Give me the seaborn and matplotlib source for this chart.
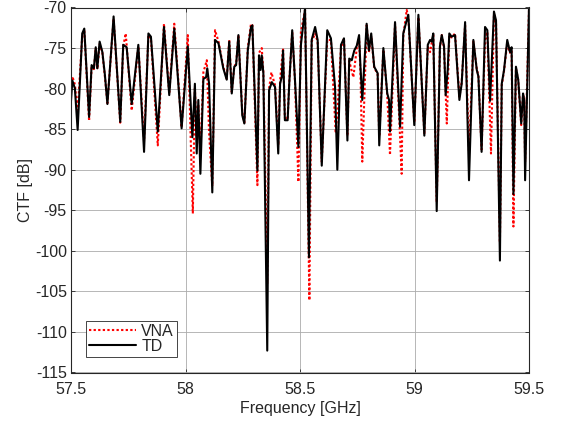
import numpy as np
import pandas as pd
import seaborn as sns
import matplotlib
matplotlib.use("Agg")
import matplotlib.pyplot as plt

# Channel transfer function, time-domain (TD) measurement
td_freq = [57.500, 57.506, 57.517, 57.529, 57.549, 57.558, 57.579, 57.590, 57.600, 57.608,
           57.615, 57.625, 57.637, 57.648, 57.659, 57.686, 57.715, 57.728, 57.743, 57.765,
           57.794, 57.819, 57.838, 57.849, 57.879, 57.906, 57.929, 57.951, 57.983, 58.010,
           58.030, 58.041, 58.049, 58.056, 58.065, 58.078, 58.090, 58.095, 58.103, 58.117,
           58.129, 58.144, 58.165, 58.180, 58.191, 58.202, 58.213, 58.221, 58.231, 58.248,
           58.257, 58.272, 58.286, 58.292, 58.314, 58.321, 58.328, 58.333, 58.340, 58.357,
           58.365, 58.377, 58.391, 58.405, 58.413, 58.420, 58.426, 58.434, 58.446, 58.453,
           58.466, 58.478, 58.493, 58.504, 58.522, 58.539, 58.551, 58.566, 58.577, 58.595,
           58.619, 58.635, 58.653, 58.663, 58.679, 58.692, 58.707, 58.715, 58.726, 58.737,
           58.748, 58.758, 58.764, 58.772, 58.791, 58.801, 58.811, 58.824, 58.839, 58.846,
           58.864, 58.881, 58.889, 58.893, 58.915, 58.937, 58.951, 58.962, 58.973, 58.999,
           59.017, 59.043, 59.058, 59.068, 59.075, 59.082, 59.097, 59.111, 59.119, 59.129,
           59.136, 59.145, 59.152, 59.162, 59.177, 59.196, 59.206, 59.221, 59.238, 59.257,
           59.272, 59.279, 59.293, 59.308, 59.318, 59.330, 59.347, 59.356, 59.373, 59.381,
           59.391, 59.405, 59.417, 59.424, 59.432, 59.443, 59.453, 59.466, 59.474, 59.479,
           59.483, 59.500]
td_ctf = [-81.5, -79.0, -80.0, -85.1, -73.2, -72.6, -83.5, -77.1, -77.5, -74.9,
          -77.5, -74.2, -75.5, -78.3, -81.9, -71.1, -84.1, -74.6, -74.9, -81.9,
          -74.6, -87.8, -73.2, -73.6, -85.3, -72.4, -80.8, -72.6, -84.9, -74.8,
          -86.0, -79.4, -88.0, -81.4, -90.5, -78.8, -78.6, -77.5, -79.4, -92.8,
          -74.0, -74.4, -77.5, -78.9, -74.2, -80.6, -77.3, -77.1, -73.4, -83.3,
          -84.3, -75.3, -72.4, -72.2, -90.1, -75.9, -77.7, -75.9, -78.1, -112.3,
          -80.2, -79.2, -79.8, -88.0, -79.4, -78.6, -75.3, -83.9, -83.9, -79.4,
          -72.8, -78.9, -87.2, -74.6, -70.1, -100.8, -74.0, -72.4, -74.0, -89.5,
          -72.8, -73.8, -79.8, -90.0, -74.6, -73.8, -86.4, -76.3, -76.5, -75.3,
          -74.7, -73.4, -77.3, -81.4, -72.0, -75.3, -73.2, -77.3, -78.1, -87.0,
          -75.0, -80.6, -81.4, -85.3, -71.8, -84.7, -73.2, -72.0, -70.9, -84.5,
          -70.9, -85.8, -74.6, -74.0, -74.2, -73.2, -95.1, -74.8, -73.4, -74.8,
          -80.8, -77.7, -73.2, -73.6, -73.4, -81.4, -79.4, -71.8, -91.3, -74.0,
          -77.7, -78.5, -87.8, -72.4, -72.8, -81.5, -70.5, -71.6, -101.2, -79.4,
          -77.7, -74.0, -75.5, -74.9, -93.0, -77.3, -78.9, -84.3, -80.6, -81.4,
          -91.3, -70.0]

# Channel transfer function, vector network analyser (VNA) measurement
vna_freq = [57.500, 57.506, 57.517, 57.529, 57.549, 57.558, 57.579, 57.590, 57.600, 57.608,
            57.615, 57.625, 57.637, 57.648, 57.659, 57.686, 57.715, 57.728, 57.739, 57.765,
            57.794, 57.819, 57.838, 57.849, 57.879, 57.906, 57.929, 57.951, 57.983, 58.010,
            58.032, 58.041, 58.049, 58.056, 58.065, 58.078, 58.093, 58.103, 58.117, 58.129,
            58.144, 58.165, 58.180, 58.191, 58.202, 58.213, 58.221, 58.231, 58.248, 58.257,
            58.272, 58.286, 58.292, 58.314, 58.321, 58.333, 58.340, 58.357, 58.365, 58.375,
            58.391, 58.405, 58.413, 58.426, 58.434, 58.446, 58.453, 58.466, 58.478, 58.493,
            58.504, 58.522, 58.541, 58.551, 58.566, 58.577, 58.595, 58.619, 58.635, 58.656,
            58.663, 58.679, 58.692, 58.707, 58.715, 58.733, 58.748, 58.758, 58.764, 58.772,
            58.791, 58.801, 58.811, 58.824, 58.839, 58.846, 58.864, 58.881, 58.893, 58.915,
            58.944, 58.951, 58.966, 58.973, 58.999, 59.017, 59.043, 59.058, 59.068, 59.075,
            59.082, 59.097, 59.111, 59.119, 59.129, 59.141, 59.152, 59.162, 59.177, 59.196,
            59.206, 59.221, 59.238, 59.257, 59.272, 59.279, 59.293, 59.308, 59.318, 59.334,
            59.347, 59.356, 59.373, 59.381, 59.391, 59.405, 59.417, 59.424, 59.432, 59.443,
            59.453, 59.466, 59.474, 59.479, 59.483, 59.500]
vna_ctf = [-80.0, -78.5, -79.5, -83.0, -73.5, -72.8, -84.0, -77.3, -77.6, -75.0,
           -77.6, -74.5, -75.6, -78.5, -81.8, -71.4, -84.2, -74.8, -73.2, -82.7,
           -74.8, -86.5, -73.4, -73.8, -87.0, -72.0, -80.6, -72.0, -84.8, -73.4,
           -95.4, -80.0, -86.0, -82.0, -88.0, -78.0, -76.5, -85.5, -92.0, -72.8,
           -74.2, -77.3, -78.8, -74.0, -80.4, -77.2, -77.0, -73.4, -83.0, -84.2,
           -75.0, -72.0, -72.2, -91.9, -75.6, -75.0, -78.0, -104.0, -80.0, -78.0,
           -79.6, -87.0, -79.0, -75.0, -83.6, -83.8, -79.2, -73.0, -79.0, -91.5,
           -73.0, -70.3, -106.1, -74.2, -73.2, -74.2, -89.0, -74.0, -74.0, -85.5,
           -83.0, -75.0, -73.8, -85.8, -76.6, -78.6, -75.0, -73.8, -78.0, -89.0,
           -72.2, -75.5, -73.5, -77.4, -78.2, -85.9, -75.2, -80.8, -88.2, -72.0,
           -90.5, -73.5, -70.3, -71.2, -84.2, -71.2, -85.5, -74.8, -75.5, -74.4,
           -73.4, -94.0, -75.0, -73.4, -75.0, -84.3, -73.4, -73.7, -73.2, -81.0,
           -79.2, -72.2, -88.0, -74.2, -77.6, -78.4, -87.5, -74.0, -73.0, -88.0,
           -70.8, -71.8, -99.0, -79.6, -77.8, -74.3, -75.6, -75.2, -97.0, -77.5,
           -79.0, -84.5, -80.8, -81.2, -89.0, -70.3]

series_names = ["VNA", "TD"]
x_ticks = [57.5, 58.0, 58.5, 59.0, 59.5]
x_tick_labels = ["57.5", "58", "58.5", "59", "59.5"]
y_ticks = [-115, -110, -105, -100, -95, -90, -85, -80, -75, -70]

sns.set_theme(style="whitegrid")
plt.rcParams["font.family"] = ["Liberation Sans", "DejaVu Sans"]
plt.rcParams["axes.unicode_minus"] = False

df = pd.concat([
    pd.DataFrame({"Frequency": vna_freq, "CTF": vna_ctf, "Series": series_names[0]}),
    pd.DataFrame({"Frequency": td_freq, "CTF": td_ctf, "Series": series_names[1]}),
], ignore_index=True)

fig = plt.figure(figsize=(5.67, 4.21), dpi=100)
ax = fig.add_axes([71 / 567, 1 - 372.5 / 421, 458 / 567, 365 / 421])

sns.lineplot(data=df, x="Frequency", y="CTF", hue="Series", style="Series",
             hue_order=series_names, style_order=series_names,
             palette={"VNA": "#ff0000", "TD": "#000000"},
             dashes={"VNA": (1.1, 1.1), "TD": ""},
             estimator=None, sort=False, linewidth=1.5, ax=ax)

ax.set_xlim(57.5, 59.5)
ax.set_ylim(-115, -70)
ax.set_xticks(x_ticks)
ax.set_xticklabels(x_tick_labels)
ax.set_yticks(y_ticks)
ax.set_xlabel("Frequency [GHz]", fontsize=11.5, color="#262626", labelpad=3)
ax.set_ylabel("CTF [dB]", fontsize=11.5, color="#262626", labelpad=1)

ax.set_facecolor("white")
ax.grid(True, color="#ababab", linewidth=0.6)
for side in ["left", "right", "top", "bottom"]:
    ax.spines[side].set_visible(True)
    ax.spines[side].set_color("#262626")
    ax.spines[side].set_linewidth(0.8)
ax.tick_params(axis="both", which="both", direction="in", length=3, width=0.6,
               colors="#262626", labelsize=11.5, top=True, right=True,
               bottom=True, left=True)
ax.tick_params(axis="x", pad=7)
ax.tick_params(axis="y", pad=3)

leg = ax.legend(loc="lower left", bbox_to_anchor=(0.033, 0.042), fontsize=11.5,
                frameon=True, fancybox=False, framealpha=1, edgecolor="#262626",
                handlelength=2.9, handletextpad=0.35, borderpad=0.2,
                labelspacing=0.0, borderaxespad=0)
leg.get_frame().set_linewidth(0.6)

fig.savefig("out.png", dpi=100, facecolor="white")
